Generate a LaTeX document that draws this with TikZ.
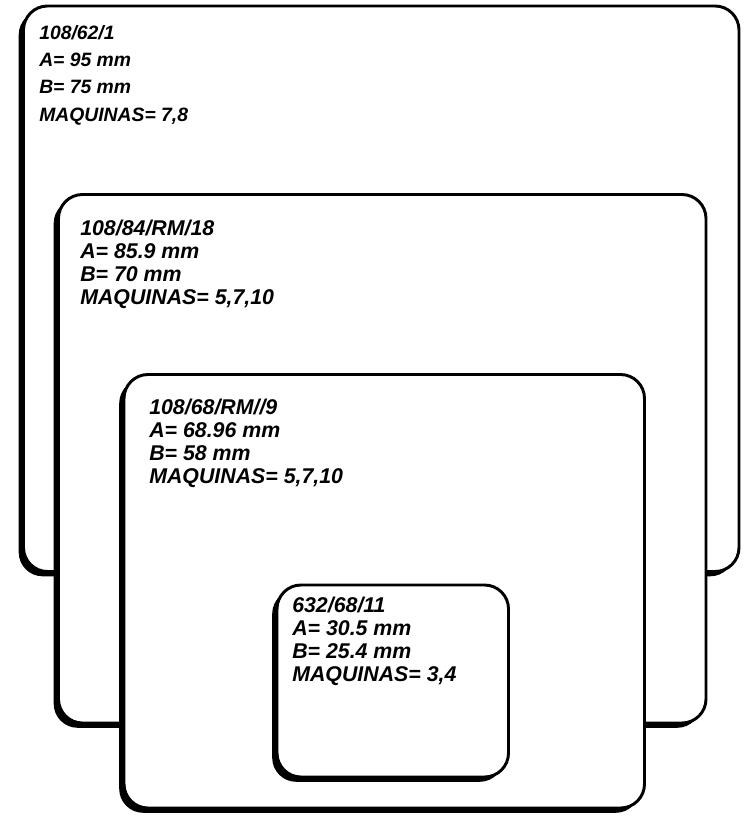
\documentclass[tikz,border=0pt]{standalone}
\usepackage{fontspec}
\setmainfont{Liberation Sans}
\usetikzlibrary{shadows}

\begin{document}
\begin{tikzpicture}[x=0.75pt, y=-0.75pt,
        card/.style={draw=black, line width=2.2pt, fill=white, rounded corners=18pt,
            drop shadow={shadow xshift=-3.6pt, shadow yshift=-3.6pt, fill=black, opacity=1}},
        cardtext/.style={anchor=north west, inner sep=0pt, align=left}]
        \newcommand{\drawcard}[6]{
            \draw [card] #2 rectangle #3;
            \node [cardtext, font={\fontsize#5\selectfont\bfseries\itshape}] (#1) at #4 {#6};
        }
        \useasboundingbox (0,0) rectangle (746,817);
        \drawcard{outer}{(23.5,6)}{(739,571.5)}{(39,21.7)}{{14.5}{20.5}}
            {\rule{0pt}{13pt}108/62/1\\A= 95 mm\\B= 75 mm\\MAQUINAS= 7,8}
        \drawcard{second}{(58.5,194.5)}{(706,723)}{(80,217.7)}{{16}{17.2}}
            {\rule{0pt}{13pt}108/84/RM/18\\A= 85.9 mm\\B= 70 mm\\MAQUINAS= 5,7,10}
        \drawcard{third}{(124,374.5)}{(644.5,808)}{(149,396.7)}{{16}{17.3}}
            {\rule{0pt}{13pt}108/68/RM//9\\A= 68.96 mm\\B= 58 mm\\MAQUINAS= 5,7,10}
        \drawcard{small}{(277,585)}{(508.5,777)}{(292,594.7)}{{16}{17.4}}
            {\rule{0pt}{13pt}632/68/11\\A= 30.5 mm\\B= 25.4 mm\\MAQUINAS= 3,4}
    \end{tikzpicture}
\end{document}
